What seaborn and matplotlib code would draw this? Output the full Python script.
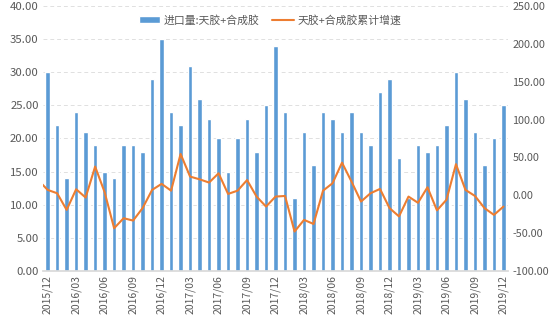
import matplotlib
matplotlib.use("Agg")
import matplotlib.pyplot as plt
import numpy as np
import pandas as pd
import seaborn as sns


months = [
    "2015/12",
    "2016/01", "2016/02", "2016/03", "2016/04", "2016/05", "2016/06",
    "2016/07", "2016/08", "2016/09", "2016/10", "2016/11", "2016/12",
    "2017/01", "2017/02", "2017/03", "2017/04", "2017/05", "2017/06",
    "2017/07", "2017/08", "2017/09", "2017/10", "2017/11", "2017/12",
    "2018/01", "2018/02", "2018/03", "2018/04", "2018/05", "2018/06",
    "2018/07", "2018/08", "2018/09", "2018/10", "2018/11", "2018/12",
    "2019/01", "2019/02", "2019/03", "2019/04", "2019/05", "2019/06",
    "2019/07", "2019/08", "2019/09", "2019/10", "2019/11", "2019/12",
]

# 进口量 (左轴)
import_vol = [
    30,
    22, 14, 24, 21, 19, 15, 14, 19, 19, 18, 29, 35,
    24, 22, 31, 26, 23, 20, 15, 20, 23, 18, 25, 34,
    24, 11, 21, 16, 24, 23, 21, 24, 21, 19, 27, 29,
    17, 11, 19, 18, 19, 22, 30, 26, 21, 16, 20, 25,
]

# 累计增速 (右轴), 第一个值为 2015/11, 在图框外被裁掉
growth_prev = 20
growth = [
    7,
    2.6, -19.4, 7.9, -3.1, 37.8, 4.0, -43.6, -30.4, -33.5, -17, 7, 15,
    6, 54.5, 24.6, 21, 16.7, 29, 1.7, 6, 20, -1.8, -15, -1.8,
    -1, -48, -32.6, -38, 6, 15.8, 43, 18, -8.4, 2.6, 8.3, -17,
    -28, -1.8, -10, 10.5, -20, -6, 41, 7, -1, -17, -26, -15,
]

bar_name = "进口量:天胶+合成胶"
line_name = "天胶+合成胶累计增速"

df = pd.DataFrame({"month": months, "vol": import_vol})
line_x = np.arange(-1, len(months))
line_y = [growth_prev] + growth

sns.set_theme(style="white")
plt.rcParams["font.family"] = ["Noto Sans CJK SC", "DejaVu Sans"]

fig, ax = plt.subplots(figsize=(5.5, 3.15), dpi=100)
fig.subplots_adjust(left=0.078, right=0.924, top=0.981, bottom=0.14)

sns.barplot(data=df, x="month", y="vol", color="#5B9BD5", width=0.48,
            saturation=1, label=bar_name, ax=ax)
if ax.get_legend() is not None:
    ax.get_legend().remove()
ax.set_ylim(0, 40)
ax.set_yticks(np.arange(0, 41, 5))
ax.set_yticklabels([f"{v:.2f}" for v in np.arange(0, 41, 5)])
ax.set_xticks(range(0, len(months), 3))
ax.set_xticklabels(months[::3], rotation=90)
ax.set_xlabel("")
ax.set_ylabel("")
ax.yaxis.grid(True, linestyle=(0, (4, 3)), color="#e0e0e0", linewidth=0.7)
ax.set_axisbelow(True)
for s in ["top", "right", "left"]:
    ax.spines[s].set_visible(False)
ax.spines["bottom"].set_color("#d9d9d9")
ax.tick_params(axis="y", length=0, labelsize=8.2, colors="#595959", pad=3)
ax.tick_params(axis="x", length=0, labelsize=7.5, colors="#595959", pad=3)

ax2 = ax.twinx()
sns.lineplot(x=line_x, y=line_y, color="#ED7D31", linewidth=1.5,
             label=line_name, ax=ax2, legend=False)
ax2.set_ylim(-100, 250)
ax2.set_yticks(np.arange(-100, 251, 50))
ax2.set_yticklabels([f"{v:.2f}" for v in np.arange(-100, 251, 50)])
ax2.set_ylabel("")
for s in ax2.spines.values():
    s.set_visible(False)
ax2.tick_params(length=0, labelsize=7.8, colors="#595959", pad=3)
ax.set_xlim(-0.5, len(months) - 0.5)

h1, l1 = ax.get_legend_handles_labels()
h2, l2 = ax2.get_legend_handles_labels()
ax2.legend(h1 + h2, l1 + l2, loc="center", bbox_to_anchor=(0.488, 0.947),
           ncol=2, frameon=False, fontsize=7.8, handlelength=2.0,
           handleheight=0.5, columnspacing=1.2, handletextpad=0.3,
           labelcolor="#595959")

fig.savefig("out.png", dpi=100)
